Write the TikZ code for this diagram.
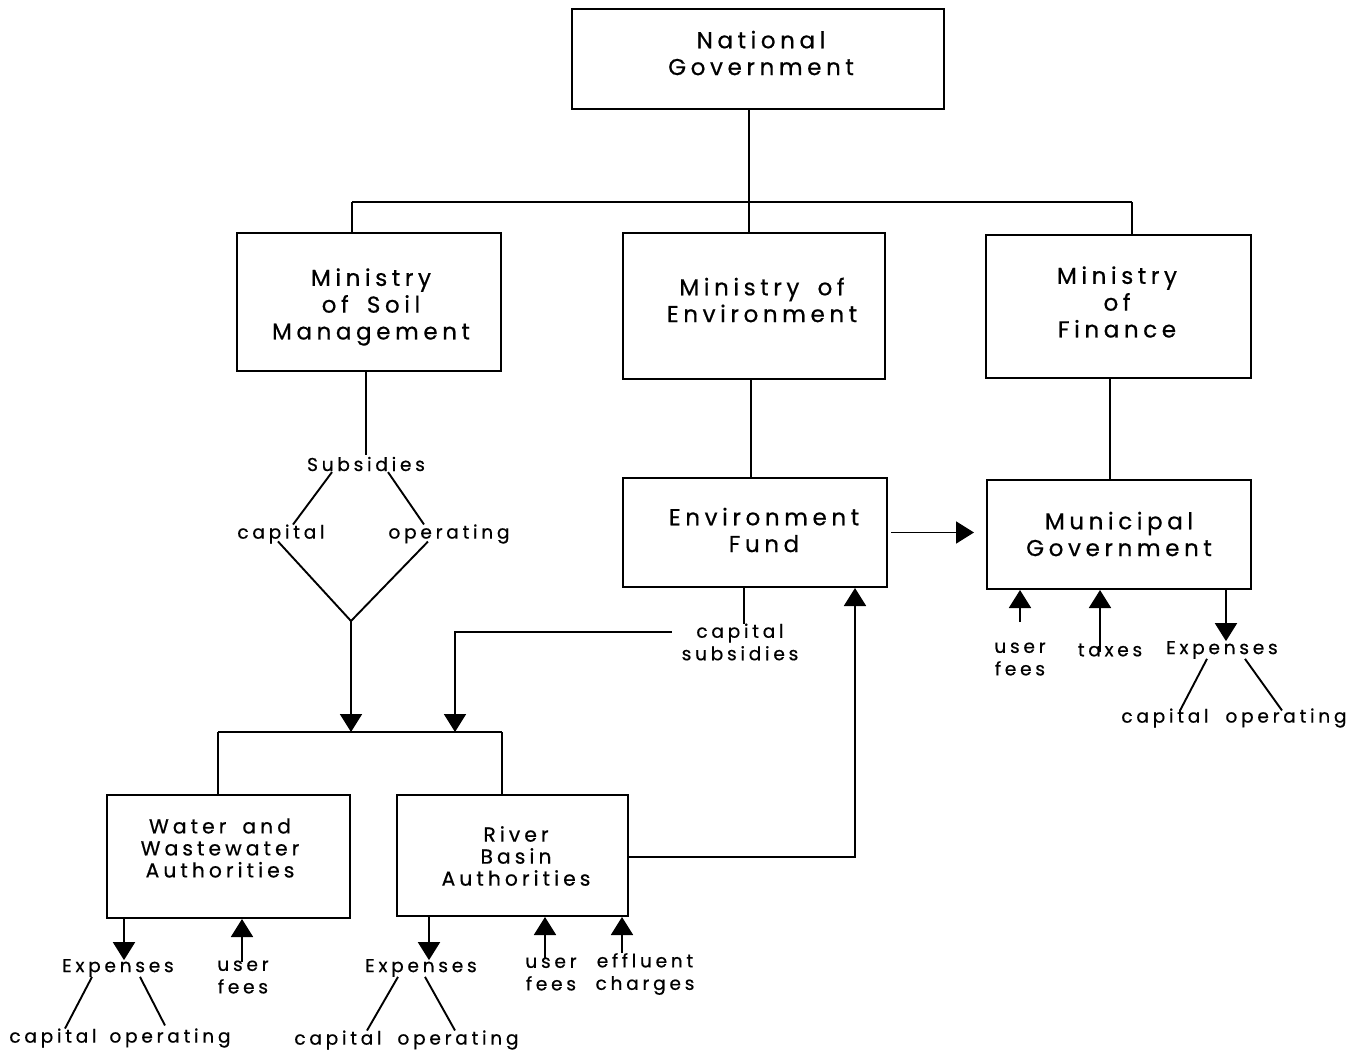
\documentclass[tikz,border=0pt]{standalone}
\usepackage{fontspec}
\newfontfamily\gfont{Poppins}[LetterSpace=20,WordSpace=1.7,FakeBold=0.6]
\usetikzlibrary{arrows.meta,calc}
\begin{document}
\begin{tikzpicture}[x=1pt,y=-1pt,
  line width=1.9pt,
  box/.style={draw,line width=2pt,inner sep=0pt},
  btxt/.style={align=center,inner sep=0pt,font=\gfont\fontsize{23}{26.8}\selectfont},
  stxt/.style={align=center,inner sep=0pt,font=\gfont\fontsize{20.3}{22}\selectfont},
  lbl/.style={align=center,inner sep=1pt,font=\gfont\fontsize{18.6}{22.5}\selectfont},
  arr/.style={-{Triangle[width=22pt,length=18pt]}}]
\useasboundingbox (0,0) rectangle (1353,1058);
% boxes
\node[box,minimum width=372pt,minimum height=100pt] (nat) at (758,59) {};
\node[box,minimum width=264pt,minimum height=138pt] (soil) at (369,302) {};
\node[box,minimum width=262pt,minimum height=146pt] (env) at (754,306) {};
\node[box,minimum width=265pt,minimum height=143pt] (fin) at (1118.5,306.5) {};
\node[box,minimum width=264pt,minimum height=109pt] (fund) at (755,532.5) {};
\node[box,minimum width=264pt,minimum height=109pt] (muni) at (1119,534.5) {};
\node[box,minimum width=243pt,minimum height=123pt] (water) at (228.5,856.5) {};
\node[box,minimum width=231pt,minimum height=121pt] (river) at (512.5,855.5) {};
% box texts
\node[btxt] (natT) at (761,53) {National\\Government};
\node[btxt] (soilT) at (371,307) {Ministry\\of Soil\\Management};
\node[btxt] (envT) at (762,300) {Ministry of\\Environment};
\node[btxt] (finT) at (1117,302) {Ministry\\of\\Finance};
\node[btxt] (fundT) at (764,530) {Environment\\Fund};
\node[btxt] (muniT) at (1119,534) {Municipal\\Government};
\node[stxt] (waterT) at (220,848) {Water and\\Wastewater\\Authorities};
\node[stxt] (riverT) at (516,856) {River\\Basin\\Authorities};
% top tree
\coordinate (j1) at (749,202);
\coordinate (jL) at (352,202);
\coordinate (jR) at (1132,202);
\draw (nat.south -| j1) -- (j1);
\draw (jL) -- (jR);
\draw (jL) -- (jL |- soil.north);
\draw (j1) -- (j1 |- env.north);
\draw (jR) -- (jR |- fin.north);
% subsidies
\node[lbl] (subs) at (366,464) {Subsidies};
\node[lbl] (cap1) at (281,534) {capital};
\node[lbl] (op1) at (449,534) {operating};
\draw (soil.south -| subs) -- (subs.north);
\draw ([xshift=-34pt,yshift=1pt]subs.south) -- ([xshift=12pt,yshift=-2pt]cap1.north);
\draw ([xshift=22pt,yshift=1pt]subs.south) -- ([xshift=-25pt,yshift=-2pt]op1.north);
\coordinate (y1) at (351,621);
\coordinate (bL) at (218,732);
\coordinate (bR) at (502,732);
\draw ([xshift=-3pt,yshift=4pt]cap1.south) -- (y1) -- ([xshift=-21pt,yshift=4pt]op1.south);
\draw[arr] (y1) -- (y1 |- bL);
% bottom tree
\draw (bL) -- (bR);
\draw (bL) -- (bL |- water.north);
\draw (bR) -- (bR |- river.north);
% env
\draw (env.south -| 751,0) -- (fund.north -| 751,0);
\draw (fin.south -| 1110,0) -- (muni.north -| 1110,0);
\draw[arr,shorten <=3pt,shorten >=12pt] (fund.east) -- (fund.east -| muni.west);
% capital subsidies
\node[lbl] (cs) at (740,642) {capital\\subsidies};
\draw (fund.south -| 744,0) -- ([yshift=-2pt]cs.north -| 744,0);
\coordinate (cc) at (455,632);
\draw[arr] ([xshift=-8pt]cs.west |- cc) -- (cc) -- (cc |- bR);
\coordinate (rf) at (855,857);
\draw[arr] (river.east |- rf) -- (rf) -- (rf |- fund.south);
% municipal
\node[lbl] (muf) at (1020,659) {user\\fees};
\node[lbl] (tax) at (1110,650) {taxes};
\node[lbl] (mexp) at (1222,650) {Expenses};
\node[lbl] (mcap) at (1165,718) {capital};
\node[lbl] (mop) at (1286,718) {operating};
\coordinate (a1) at (1020,622);
\draw[arr] (a1) -- (a1 |- muni.south);
\draw[arr] ([yshift=-10pt]tax.north -| 1100,0) -- (muni.south -| 1100,0);
\draw[arr] (muni.south -| 1226,0) -- ([yshift=-2pt]mexp.north -| 1226,0);
\draw ([xshift=-15pt,yshift=2pt]mexp.south) -- ([xshift=15pt,yshift=-4pt]mcap.north);
\draw ([xshift=23pt,yshift=2pt]mexp.south) -- ([xshift=-4pt,yshift=-4pt]mop.north);
% water bottom
\node[lbl] (wexp) at (118,968) {Expenses};
\node[lbl] (wuf) at (243,977) {user\\fees};
\node[lbl] (wcap) at (53,1038) {capital};
\node[lbl] (wop) at (170,1038) {operating};
\draw[arr] (water.south -| 124,0) -- ([yshift=-3pt]wexp.north -| 124,0);
\draw[arr] ([yshift=-3pt]wuf.north -| 242,0) -- (water.south -| 242,0);
\draw ([xshift=-26pt,yshift=2pt]wexp.south) -- ([xshift=12pt,yshift=-2pt]wcap.north);
\draw ([xshift=22pt,yshift=2pt]wexp.south) -- ([xshift=-5pt,yshift=1pt]wop.north);
% river bottom
\node[lbl] (rexp) at (421,968) {Expenses};
\node[lbl] (ruf) at (551,974) {user\\fees};
\node[lbl] (reff) at (645,974) {effluent\\charges};
\node[lbl] (rcap) at (338,1040) {capital};
\node[lbl] (rop) at (458,1040) {operating};
\draw[arr] (river.south -| 429,0) -- ([yshift=-3pt]rexp.north -| 429,0);
\draw[arr] ([yshift=-2pt]ruf.north -| 545,0) -- (river.south -| 545,0);
\draw[arr] ([yshift=-2pt]reff.north -| 622,0) -- (river.south -| 622,0);
\draw ([xshift=-23pt,yshift=2pt]rexp.south) -- ([xshift=29pt,yshift=-2pt]rcap.north);
\draw ([xshift=4pt,yshift=2pt]rexp.south) -- ([xshift=-3pt,yshift=-2pt]rop.north);
\end{tikzpicture}
\end{document}
